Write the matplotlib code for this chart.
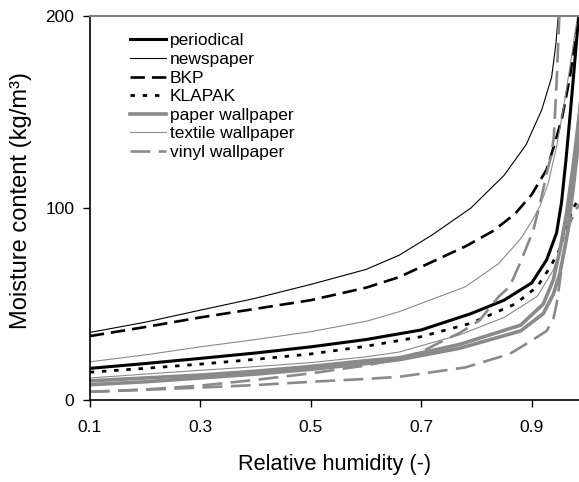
import matplotlib
matplotlib.use("Agg")
import matplotlib.pyplot as plt

plt.rcParams['font.family'] = ['Liberation Sans', 'DejaVu Sans']

GREY = '#8a8a8a'

# moisture storage curves (relative humidity -> kg/m3)
rh_periodical = [0.1, 0.2, 0.3, 0.4, 0.5, 0.6, 0.7, 0.79, 0.85, 0.9, 0.927, 0.945, 0.954, 0.962, 0.97, 0.977, 0.985]
w_periodical = [16.5, 19, 21.7, 24.5, 27.7, 31.5, 36.5, 45, 52, 61, 73, 87, 103, 125, 150, 173, 200]

rh_newspaper = [0.1, 0.2, 0.3, 0.4, 0.5, 0.6, 0.66, 0.72, 0.79, 0.85, 0.89, 0.918, 0.936, 0.944, 0.948]
w_newspaper = [35.2, 40.5, 46.8, 53, 60.2, 68, 75.4, 86, 100, 117, 133, 151, 168, 186, 200]

rh_bkp = [0.1, 0.2, 0.3, 0.4, 0.5, 0.6, 0.66, 0.78, 0.83, 0.87, 0.9, 0.927, 0.94, 0.955, 0.969, 0.981, 0.986]
w_bkp = [33.3, 38, 43, 47.5, 52, 58.5, 64, 80, 88, 97, 107, 120, 132, 147, 168, 192, 200]

rh_klapak = [0.1, 0.2, 0.3, 0.4, 0.5, 0.6, 0.7, 0.79, 0.87, 0.91, 0.933, 0.95, 0.963, 0.975, 0.986]
w_klapak = [14.5, 16.5, 18.7, 21.2, 24, 28, 33, 40, 50, 59, 69, 78, 90, 100, 105]

rh_paper_a = [0.1, 0.2, 0.3, 0.4, 0.5, 0.6, 0.66, 0.77, 0.88, 0.921, 0.939, 0.951, 0.963, 0.975, 0.986]
w_paper_a = [10, 11.5, 13, 15, 17.5, 20.5, 22, 29, 39, 50, 62.5, 78, 97, 122, 148]
rh_paper_b = [0.1, 0.2, 0.3, 0.4, 0.5, 0.6, 0.66, 0.77, 0.88, 0.921, 0.939, 0.951, 0.963, 0.975, 0.986]
w_paper_b = [8, 9.5, 11.5, 13.5, 16, 19, 21, 27, 36, 45, 55, 66, 84, 110, 138]

rh_textile_a = [0.1, 0.2, 0.3, 0.4, 0.5, 0.6, 0.66, 0.78, 0.84, 0.88, 0.9, 0.915, 0.93, 0.945, 0.957, 0.97, 0.981]
w_textile_a = [19.9, 23.5, 27.7, 31.5, 35.6, 41, 46, 59, 71, 84, 93, 101, 113, 132, 151, 175, 196]
rh_textile_b = [0.1, 0.2, 0.3, 0.37, 0.5, 0.6, 0.66, 0.77, 0.85, 0.91, 0.939, 0.957, 0.969, 0.978, 0.986]
w_textile_b = [11.5, 13.5, 15.5, 16.8, 19.5, 22.5, 25, 34, 43, 54, 67.7, 83, 104, 130, 155]

rh_vinyl_a = [0.1, 0.2, 0.3, 0.4, 0.5, 0.6, 0.65, 0.7, 0.73, 0.77, 0.806, 0.84, 0.86, 0.88, 0.903, 0.918, 0.927, 0.936, 0.94, 0.945, 0.95]
w_vinyl_a = [4.3, 5.5, 7.5, 10.5, 13.9, 18, 20.8, 25, 29.5, 35, 41.6, 53.8, 59, 72, 88.5, 106, 118, 128, 137, 165, 200]
rh_vinyl_b = [0.1, 0.2, 0.3, 0.4, 0.5, 0.6, 0.66, 0.78, 0.86, 0.9, 0.927, 0.939, 0.945, 0.95, 0.957, 0.969, 0.98, 0.986]
w_vinyl_b = [4.3, 5.3, 6.5, 7.8, 9.5, 11, 12.1, 17, 24, 31, 36, 42, 50, 60, 75, 92, 99, 102]

x_ticks = [0.1, 0.3, 0.5, 0.7, 0.9]
y_ticks = [0, 100, 200]

fig = plt.figure(figsize=(5.79, 4.82), dpi=100)
ax = fig.add_axes([0.155, 0.170, 0.845, 0.797])

dash_bkp = (0, (5.5, 2.6))
dash_vinyl = (0, (7.5, 3.2))
dot_klapak = (0, (1.6, 2.8))

ax.plot(rh_periodical, w_periodical, color='black', lw=2.2, label='periodical')
ax.plot(rh_newspaper, w_newspaper, color='black', lw=0.8, label='newspaper')
ax.plot(rh_bkp, w_bkp, color='black', lw=1.9, ls=dash_bkp, label='BKP')
ax.plot(rh_klapak, w_klapak, color='black', lw=2.0, ls=dot_klapak, label='KLAPAK')
ax.plot(rh_paper_a, w_paper_a, color=GREY, lw=2.6, label='paper wallpaper')
ax.plot(rh_paper_b, w_paper_b, color=GREY, lw=2.6)
ax.plot(rh_textile_a, w_textile_a, color=GREY, lw=0.8, label='textile wallpaper')
ax.plot(rh_textile_b, w_textile_b, color=GREY, lw=0.8)
ax.plot(rh_vinyl_a, w_vinyl_a, color=GREY, lw=1.9, ls=dash_vinyl, label='vinyl wallpaper')
ax.plot(rh_vinyl_b, w_vinyl_b, color=GREY, lw=1.9, ls=dash_vinyl)

ax.set_xlim(0.1, 0.9856)
ax.set_ylim(0, 200)
ax.set_xticks(x_ticks)
ax.set_xticklabels([f"{v:.1f}" for v in x_ticks])
ax.set_yticks(y_ticks)
ax.tick_params(direction='out', length=5, width=1, labelsize=12.5, colors='black', pad=6)
ax.tick_params(axis='x', pad=9)

ax.spines['right'].set_visible(False)
ax.spines['top'].set_color('#808080')
ax.spines['top'].set_linewidth(1.5)
ax.spines['left'].set_linewidth(1.2)
ax.spines['bottom'].set_linewidth(1.2)

ax.set_xlabel("Relative humidity (-)", fontsize=15.7, labelpad=14)
ax.set_ylabel("Moisture content (kg/m³)", fontsize=17, labelpad=6)
ax.yaxis.set_label_coords(-0.118, 0.52)

ax.legend(loc='upper left', bbox_to_anchor=(0.082, 0.955), frameon=False,
          fontsize=12.5, handlelength=2.1, handletextpad=0.2, labelspacing=0.2,
          borderpad=0, borderaxespad=0)

fig.savefig("out.png", dpi=100)
